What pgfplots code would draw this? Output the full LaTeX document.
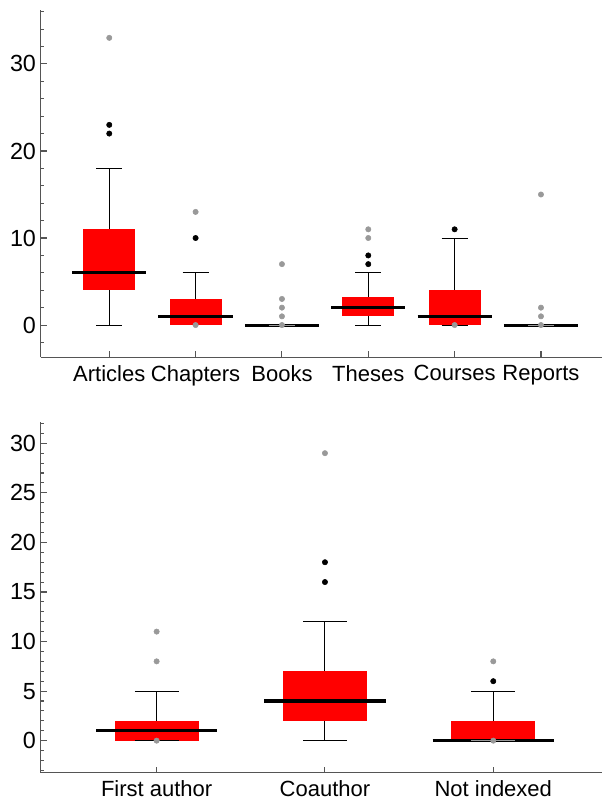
\documentclass[border=0pt]{standalone}
\usepackage{pgfplots}
\pgfplotsset{compat=1.18}
\usepackage{fontspec}
\setmainfont{Liberation Sans}
\definecolor{axgray}{HTML}{555555}
\definecolor{outgray}{HTML}{999999}
\definecolor{boxred}{HTML}{FF0000}
\begin{document}
\begin{tikzpicture}
\useasboundingbox (0,0) rectangle (452.25pt,-601.5pt);
\pgfplotsset{
  common/.style={
    scale only axis,
    axis x line*=bottom, axis y line*=left,
    xtick pos=bottom, ytick pos=left,
    axis line style={axgray, line width=0.8pt},
    tick style={axgray, line width=0.8pt},
    major tick length=4.5pt, minor tick length=2.6pt,
    tick align=inside,
    /pgf/number format/assume math mode=true,
    yticklabel style={font=\fontsize{17.5}{20}\selectfont, black},
    xticklabel style={font=\fontsize{16.5}{20}\selectfont, black, yshift=-2.5pt},
  },
  wh/.style={black, line width=0.75pt, mark=none},
  cg/.style={outgray, line width=0.75pt, mark=none},
  md/.style={black, line width=2.3pt, mark=none},
  bx/.style={fill=boxred, draw=none, mark=none},
  ob/.style={only marks, mark=*, mark size=2pt, black, mark options={draw=none, fill=black}},
  og/.style={only marks, mark=*, mark size=2pt, outgray, mark options={draw=none, fill=outgray}},
}
% ---------------- top chart ----------------
\begin{axis}[common,
  at={(30.5pt,-268pt)}, anchor=south west,
  width=420.75pt, height=260.5pt,
  xmin=0.2055, xmax=6.703, ymin=-3.71, ymax=36.2,
  xtick={1,2,3,4,5,6},
  xticklabels={Articles,Chapters,Books,Theses,Courses,Reports},
  ytick={0,10,20,30},
  minor ytick={-2,0,2,4,6,8,10,12,14,16,18,20,22,24,26,28,30,32,34,36},
]
% Articles
\addplot[wh] coordinates {(1,0) (1,18)};
\addplot[bx] coordinates {(0.7,4) (1.3,4) (1.3,11) (0.7,11)};
\addplot[md] coordinates {(0.57,6) (1.43,6)};
\addplot[wh] coordinates {(0.85,0) (1.15,0)};
\addplot[wh] coordinates {(0.85,18) (1.15,18)};
% Chapters
\addplot[wh] coordinates {(2,0) (2,6)};
\addplot[bx] coordinates {(1.7,0) (2.3,0) (2.3,3) (1.7,3)};
\addplot[md] coordinates {(1.57,1) (2.43,1)};
\addplot[wh] coordinates {(1.85,6) (2.15,6)};
% Books
\addplot[md] coordinates {(2.57,0) (3.43,0)};
\addplot[cg] coordinates {(2.85,0) (3.15,0)};
% Theses
\addplot[wh] coordinates {(4,0) (4,6)};
\addplot[bx] coordinates {(3.7,1) (4.3,1) (4.3,3.25) (3.7,3.25)};
\addplot[md] coordinates {(3.57,2) (4.43,2)};
\addplot[wh] coordinates {(3.85,0) (4.15,0)};
\addplot[wh] coordinates {(3.85,6) (4.15,6)};
% Courses
\addplot[wh] coordinates {(5,0) (5,10)};
\addplot[bx] coordinates {(4.7,0) (5.3,0) (5.3,4) (4.7,4)};
\addplot[md] coordinates {(4.57,1) (5.43,1)};
\addplot[wh] coordinates {(4.85,0) (5.15,0)};
\addplot[wh] coordinates {(4.85,10) (5.15,10)};
% Reports
\addplot[md] coordinates {(5.57,0) (6.43,0)};
\addplot[cg] coordinates {(5.85,0) (6.15,0)};
% outliers
\addplot[ob] coordinates {(1,22) (1,23) (2,10) (4,7) (4,8) (5,11)};
\addplot[og] coordinates {(1,33) (2,13) (2,0) (3,0) (3,1) (3,2) (3,3) (3,7)
  (4,10) (4,11) (5,0) (6,0) (6,1) (6,2) (6,15)};
\end{axis}
% ---------------- bottom chart ----------------
\begin{axis}[common,
  at={(30.5pt,-579.5pt)}, anchor=south west,
  width=420.75pt, height=263.25pt,
  xmin=0.311, xmax=3.644, ymin=-3.23, ymax=32.18,
  xtick={1,2,3},
  xticklabels={First author,Coauthor,Not indexed},
  ytick={0,5,10,15,20,25,30},
  minor ytick={-3,-2,...,32},
]
% First author
\addplot[wh] coordinates {(1,0) (1,5)};
\addplot[bx] coordinates {(0.75,0) (1.25,0) (1.25,2) (0.75,2)};
\addplot[md] coordinates {(0.64,1) (1.36,1)};
\addplot[wh] coordinates {(0.87,0) (1.13,0)};
\addplot[wh] coordinates {(0.87,5) (1.13,5)};
% Coauthor
\addplot[wh] coordinates {(2,0) (2,12)};
\addplot[bx] coordinates {(1.75,2) (2.25,2) (2.25,7) (1.75,7)};
\addplot[md] coordinates {(1.64,4) (2.36,4)};
\addplot[wh] coordinates {(1.87,0) (2.13,0)};
\addplot[wh] coordinates {(1.87,12) (2.13,12)};
% Not indexed
\addplot[wh] coordinates {(3,0) (3,5)};
\addplot[bx] coordinates {(2.75,0) (3.25,0) (3.25,2) (2.75,2)};
\addplot[md] coordinates {(2.64,0) (3.36,0)};
\addplot[cg] coordinates {(2.87,0) (3.13,0)};
\addplot[wh] coordinates {(2.87,5) (3.13,5)};
% outliers
\addplot[ob] coordinates {(2,16) (2,18) (3,6)};
\addplot[og] coordinates {(1,0) (1,8) (1,11) (2,29) (3,0) (3,8)};
\end{axis}
\end{tikzpicture}
\end{document}
